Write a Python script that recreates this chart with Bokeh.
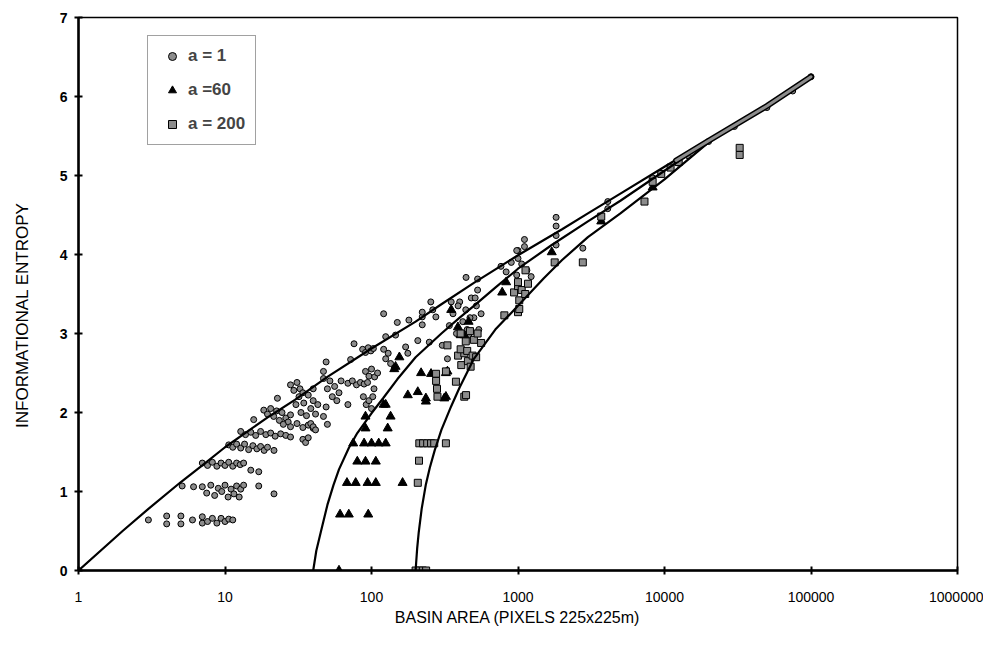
import math
from bokeh.plotting import figure
from bokeh.models import Range1d, FixedTicker, Legend, LegendItem, NumeralTickFormatter
from bokeh.embed import file_html
from bokeh.resources import INLINE

# ---------------- data ----------------
x_ticks = [1, 10, 100, 1000, 10000, 100000, 1000000]
y_ticks = [0, 1, 2, 3, 4, 5, 6, 7]

# model curves
curve1_x = [1, 2, 3, 5, 7, 10, 15, 20, 30, 50, 100, 200, 300, 500, 1000, 2000, 3000, 5000, 10000, 20000, 50000, 100000]
curve1_y = [0, 0.50, 0.78, 1.12, 1.33, 1.56, 1.79, 1.95, 2.16, 2.45, 2.81, 3.15, 3.37, 3.64, 3.99, 4.32, 4.52, 4.77, 5.11, 5.45, 5.88, 6.25]

curve60_x = [40, 42, 45, 50, 55, 60, 70, 80, 100, 120, 150, 200, 300, 400, 500, 700, 1000, 1700, 3000, 5000, 10000, 20000, 50000, 100000]
curve60_y = [0, 0.25, 0.48, 0.83, 1.08, 1.28, 1.55, 1.74, 1.99, 2.18, 2.42, 2.70, 3.00, 3.20, 3.35, 3.58, 3.82, 4.12, 4.42, 4.68, 5.06, 5.44, 5.88, 6.25]

curve200_x = [200, 205, 210, 220, 235, 250, 270, 300, 350, 400, 500, 700, 1000, 1500, 2000, 3000, 5000, 10000, 20000, 50000, 100000]
curve200_y = [0, 0.28, 0.48, 0.78, 1.09, 1.30, 1.52, 1.78, 2.08, 2.32, 2.68, 3.05, 3.35, 3.70, 3.93, 4.22, 4.52, 4.95, 5.42, 5.87, 6.25]

# dense run of points piled along the merged curves (drawn as a grey band)
band_x = [12000, 20000, 50000, 100000]
band_y = [5.19, 5.44, 5.88, 6.25]

# a = 1 (circles)
a1_x = [1,
        3, 4, 4, 5, 5, 6, 7, 7, 7.6, 8.2, 8.8, 9.4, 10, 10.6, 11.3,
        5.1, 6.1, 7, 7.5, 8, 8.5, 9, 9.5, 10, 10.5, 11, 11.5, 12, 12.8, 13.4, 12.5, 17, 21.6,
        7, 7.6, 8.2, 8.8, 9.4, 10, 10.6, 11.3, 12, 12.7, 13.4, 15, 17,
        10.6, 11.3, 12, 12.8, 13.6, 14.5, 15.5, 16.5, 17.5, 18.5, 19.5, 21.6,
        12.8, 13.8, 15, 16.2, 17.5, 19, 20.5, 22, 24, 26, 28,
        15.7, 18.4, 19.5, 20.5, 21.5, 22.5, 23.5, 24.5, 26, 27, 28, 22.8,
        25, 28, 31, 34, 37, 40,
        34, 35.5, 37, 38.5, 40, 41.5, 50, 47, 49,
        30.5, 32, 33, 34.5, 36, 37, 38.5, 40, 41.5, 43,
        28, 29.5, 31, 32.5, 34, 40, 47, 49,
        47, 50, 52, 54, 56, 58, 60, 62,
        69, 69, 74, 79, 84, 89, 94, 72, 76,
        87, 91, 95, 99, 103,
        91, 96, 100, 105, 110,
        88, 92, 96, 100, 102,
        104, 121, 125, 130, 135, 121, 125, 150, 146,
        180, 222, 262, 350, 207, 248, 171, 177, 143,
        254, 222, 222, 275, 304, 330,
        340, 360, 380, 400, 420, 440, 460, 480, 500, 520, 540, 560, 390, 450, 470, 510,
        442, 530, 530,
        765, 830, 900, 980, 1060, 1150, 1230,
        1000, 1000, 1107, 1107, 980,
        1820, 1820, 1820, 1820, 2770,
        4100, 4100, 8300, 9500, 11000, 12300,
        14500, 20000, 30000, 50000, 75000, 100000]
a1_y = [0,
        0.64, 0.59, 0.69, 0.59, 0.69, 0.64, 0.60, 0.68, 0.62, 0.66, 0.60, 0.66, 0.62, 0.65, 0.64,
        1.07, 1.06, 1.06, 0.98, 1.08, 0.95, 1.04, 1.00, 1.08, 0.93, 1.03, 0.97, 1.07, 1.03, 1.08, 0.93, 1.07, 0.97,
        1.36, 1.33, 1.37, 1.32, 1.36, 1.33, 1.37, 1.32, 1.36, 1.34, 1.36, 1.27, 1.25,
        1.59, 1.56, 1.60, 1.55, 1.60, 1.53, 1.58, 1.54, 1.57, 1.52, 1.56, 1.52,
        1.76, 1.72, 1.75, 1.71, 1.76, 1.72, 1.74, 1.70, 1.73, 1.71, 1.69,
        1.91, 2.03, 1.98, 2.05, 1.95, 2.02, 1.90, 2.00, 1.93, 1.88, 1.97, 2.18,
        1.85, 1.82, 1.86, 1.81, 1.84, 1.80,
        1.66, 1.62, 1.68, 1.86, 1.82, 1.78, 1.85, 1.95, 2.07,
        2.10, 2.20, 2.00, 2.12, 1.96, 2.22, 2.05, 2.15, 1.98, 2.10,
        2.35, 2.28, 2.38, 2.30, 2.25, 2.30, 2.52, 2.64,
        2.43, 2.30, 2.40, 2.20, 2.33, 2.15, 2.25, 2.40,
        2.10, 2.37, 2.40, 2.35, 2.38, 2.36, 2.38, 2.67, 2.87,
        2.80, 2.76, 2.82, 2.78, 2.81,
        2.52, 2.46, 2.55, 2.45, 2.50,
        2.20, 2.10, 2.15, 2.05, 2.20,
        2.30, 2.80, 2.68, 2.75, 2.62, 3.25, 2.96, 3.14, 2.98,
        3.17, 3.21, 3.30, 3.40, 2.91, 2.89, 2.83, 2.75, 2.56,
        3.40, 3.27, 3.11, 3.21, 2.85, 2.68,
        3.10, 3.25, 3.00, 3.40, 3.15, 3.30, 2.98, 3.45, 3.20, 3.35, 3.05, 3.25, 3.35, 3.05, 3.20, 3.45,
        3.71, 3.69, 3.55,
        3.85, 3.78, 3.90, 3.74, 3.88, 3.80, 3.72,
        4.05, 3.95, 4.19, 4.10, 4.05,
        4.47, 4.36, 4.24, 4.12, 4.08,
        4.67, 4.58, 4.97, 5.03, 5.10, 5.16,
        5.25, 5.43, 5.62, 5.86, 6.07, 6.25]

# a = 60 (triangles)
a60_x = [60,
         61, 70, 95,
         68, 78, 94, 107, 163,
         80, 91, 107,
         75, 89, 100, 112, 125,
         91, 129, 91, 135, 121, 125,
         235, 177, 207, 235, 314, 322,
         218, 255, 322, 330,
         143, 146, 155,
         430, 350, 389, 406, 460,
         780, 830, 1700,
         3700, 8300]
a60_y = [0,
         0.71, 0.71, 0.71,
         1.11, 1.11, 1.11, 1.11, 1.11,
         1.38, 1.38, 1.38,
         1.61, 1.61, 1.61, 1.61, 1.61,
         1.80, 1.80, 1.95, 1.95, 2.10, 2.10,
         2.14, 2.22, 2.26, 2.18, 2.18, 2.20,
         2.50, 2.49, 2.50, 2.52,
         2.55, 2.58, 2.70,
         2.98, 3.30, 3.08, 2.98, 3.15,
         3.52, 3.65, 4.03,
         4.42, 4.85]

# a = 200 (squares)
a200_x = [200, 212, 224, 236,
          207, 211,
          212, 225, 240, 255, 268, 322,
          276, 276, 280, 282, 322, 377, 430, 442,
          390, 410, 430, 455, 475, 406, 450, 490, 518,
          330,
          406, 440, 470, 500, 530, 560,
          807, 1000, 1020, 1020, 940, 1000, 1060, 1120, 1170, 1000, 1125, 1780, 2770,
          3700, 7300, 8300, 9500, 11000, 12500, 32600, 32600]
a200_y = [0, 0, 0, 0,
          1.11, 1.39,
          1.61, 1.61, 1.61, 1.61, 1.61, 1.61,
          2.49, 2.40, 2.30, 2.20, 2.52, 2.39, 2.20, 2.22,
          2.72, 2.60, 2.75, 2.65, 2.58, 2.80, 2.78, 2.72, 2.70,
          2.85,
          3.00, 2.90, 3.03, 2.92, 3.00, 2.88,
          3.23, 3.27, 3.31, 3.42, 3.52, 3.60, 3.55, 3.50, 3.63, 3.65, 3.80, 3.90, 3.90,
          4.48, 4.67, 4.92, 5.02, 5.10, 5.17, 5.35, 5.26]

legend_labels = ["a = 1", "a =60", "a = 200"]
x_title = "BASIN AREA (PIXELS 225x225m)"
y_title = "INFORMATIONAL ENTROPY"

# ---------------- figure ----------------
GRAY = "#8c8c8c"
FONT = "Liberation Sans"

p = figure(width=983, height=630, x_axis_type="log",
           x_range=Range1d(1, 1000000), y_range=Range1d(0, 7),
           output_backend="svg", toolbar_location=None,
           min_border_left=78, min_border_right=26, min_border_top=17, min_border_bottom=60)

p.background_fill_color = "white"
p.border_fill_color = "white"
p.outline_line_color = "black"
p.outline_line_width = 1.5
p.xgrid.grid_line_color = None
p.ygrid.grid_line_color = None

r1 = p.scatter(a1_x, a1_y, marker="circle", size=6, fill_color=GRAY, line_color="black", line_width=1)
r60 = p.scatter(a60_x, a60_y, marker="triangle", size=9, fill_color="black", line_color="black", line_width=1)
r200 = p.scatter(a200_x, a200_y, marker="square", size=7, fill_color=GRAY, line_color="black", line_width=1)

for cx, cy in [(curve1_x, curve1_y), (curve60_x, curve60_y), (curve200_x, curve200_y)]:
    p.line(cx, cy, line_color="black", line_width=2.2)

# grey band of piled-up points along the merged curves
p.line(band_x, band_y, line_color="black", line_width=6, line_cap="round")
p.line(band_x, band_y, line_color=GRAY, line_width=3, line_cap="round")

# axes
p.xaxis.ticker = FixedTicker(ticks=x_ticks, minor_ticks=[])
p.xaxis.formatter = NumeralTickFormatter(format="0")
p.yaxis.ticker = FixedTicker(ticks=y_ticks, minor_ticks=[])
for ax in (p.xaxis, p.yaxis):
    ax.axis_line_color = "black"
    ax.axis_line_width = 2.5
    ax.major_tick_line_color = "black"
    ax.major_tick_line_width = 2
    ax.major_tick_in = 4
    ax.major_tick_out = 4
    ax.minor_tick_line_color = None
    ax.major_label_text_color = "black"
    ax.major_label_text_font = FONT
    ax.axis_label_text_font = FONT
    ax.axis_label_text_font_style = "normal"
    ax.axis_label_text_color = "black"
p.xaxis.major_label_text_font_size = "14px"
p.xaxis.major_label_standoff = 17
p.yaxis.major_label_text_font_size = "14px"
p.yaxis.major_label_text_font_style = "bold"
p.yaxis.major_label_standoff = 7

p.xaxis.axis_label = x_title
p.xaxis.axis_label_text_font_size = "16px"
p.xaxis.axis_label_standoff = 4
p.yaxis.axis_label = y_title + "\u00a0" * 9
p.yaxis.axis_label_text_font_size = "17px"
p.yaxis.axis_label_standoff = 25

legend = Legend(items=[LegendItem(label=legend_labels[0], renderers=[r1]),
                       LegendItem(label=legend_labels[1], renderers=[r60]),
                       LegendItem(label=legend_labels[2], renderers=[r200])],
                location=(69, 425))
legend.margin = 0
legend.padding = 10
legend.spacing = 14
legend.label_height = 20
legend.glyph_height = 20
legend.glyph_width = 28
legend.label_standoff = 2
legend.label_text_font = FONT
legend.label_text_font_size = "17px"
legend.label_text_font_style = "bold"
legend.border_line_color = "#444444"
legend.border_line_width = 1
legend.background_fill_color = "white"
legend.background_fill_alpha = 1
p.add_layout(legend)

open("out.html", "w").write(file_html(p, INLINE))
